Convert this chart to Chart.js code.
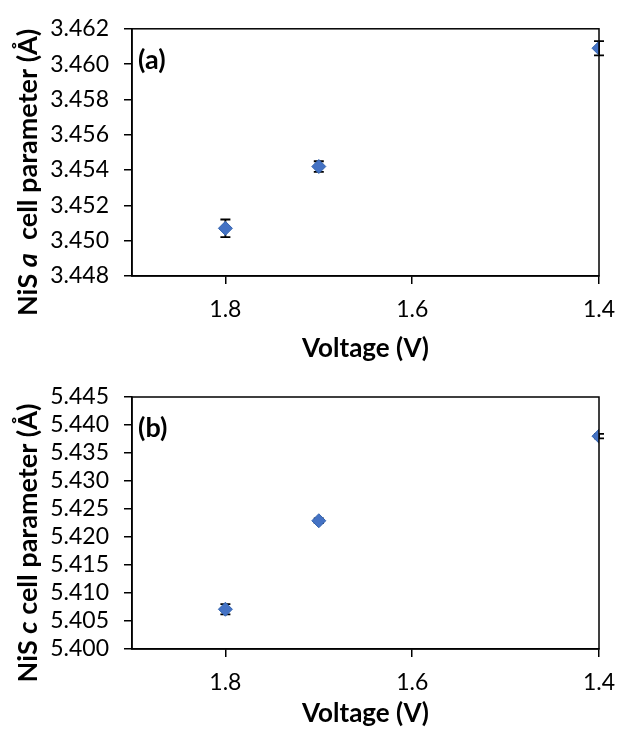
<!DOCTYPE html>
<html>
<head>
<meta charset="utf-8">
<script src="https://cdn.jsdelivr.net/npm/chart.js@4.4.1/dist/chart.umd.min.js"></script>
<style>
    html, body { margin: 0; padding: 0; background: #fff; }
    #wrap { position: relative; width: 617px; height: 733px; }
    canvas { position: absolute; left: 0; }
    #chartA { top: 0; }
    #chartC { top: 366px; }
</style>
</head>
<body>
<div id="wrap">
    <canvas id="chartA" width="617" height="366"></canvas>
    <canvas id="chartC" width="617" height="367"></canvas>
</div>
<script>
// Data
const voltage = [1.8, 1.7, 1.4];
const aParam = [3.4507, 3.4542, 3.4609];
const aErr = [0.0005, 0.0003, 0.0004];
const cParam = [5.4071, 5.4229, 5.4380];
const cErr = [0.0009, 0.0004, 0.0004];

// Tick labels
const xTicks = [1.8, 1.6, 1.4];
const aTicks = [3.448, 3.450, 3.452, 3.454, 3.456, 3.458, 3.460, 3.462];
const cTicks = [5.400, 5.405, 5.410, 5.415, 5.420, 5.425, 5.430, 5.435, 5.440, 5.445];

const FONT = 'Lato, "Open Sans", sans-serif';
const MARKER = '#4472C4';

// Black box round the plot area
const framePlugin = {
    id: 'frame',
    afterDatasetsDraw(chart) {
        const { ctx, chartArea: a } = chart;
        ctx.save();
        ctx.strokeStyle = '#000';
        ctx.lineWidth = 1.5;
        ctx.strokeRect(a.left, a.top, a.right - a.left, a.bottom - a.top);
        ctx.restore();
    }
};

// Vertical error bars with caps
const errorBarPlugin = {
    id: 'errorBars',
    beforeDatasetsDraw(chart) {
        const ctx = chart.ctx;
        const yScale = chart.scales.y;
        chart.data.datasets.forEach((ds, di) => {
            const meta = chart.getDatasetMeta(di);
            if (!ds.errors) return;
            meta.data.forEach((pt, i) => {
                const v = ds.data[i].y;
                const e = ds.errors[i];
                const yTop = yScale.getPixelForValue(v + e);
                const yBot = yScale.getPixelForValue(v - e);
                ctx.save();
                ctx.strokeStyle = '#000';
                ctx.lineWidth = 1.8;
                ctx.beginPath();
                ctx.moveTo(pt.x, yTop);
                ctx.lineTo(pt.x, yBot);
                ctx.moveTo(pt.x - 5, yTop);
                ctx.lineTo(pt.x + 5, yTop);
                ctx.moveTo(pt.x - 5, yBot);
                ctx.lineTo(pt.x + 5, yBot);
                ctx.stroke();
                ctx.restore();
            });
        });
    }
};

// Rotated y title with an italic letter, plus the panel tag
const labelPlugin = {
    id: 'labels',
    afterDraw(chart, args, opts) {
        const { ctx, chartArea: a } = chart;
        ctx.save();
        ctx.fillStyle = '#000';
        ctx.textBaseline = 'middle';
        ctx.textAlign = 'left';

        // panel tag
        ctx.font = 'bold 27px ' + FONT;
        ctx.fillText(opts.tag, a.left + 6, a.top + 31);

        // y title
        ctx.translate(opts.titleX, (a.top + a.bottom) / 2 + opts.titleDy);
        ctx.rotate(-Math.PI / 2);
        const widths = opts.parts.map(p => {
            ctx.font = p.font;
            return ctx.measureText(p.text).width;
        });
        let x = -widths.reduce((s, w) => s + w, 0) / 2;
        opts.parts.forEach((p, i) => {
            ctx.font = p.font;
            ctx.fillText(p.text, x, 0);
            x += widths[i];
        });
        ctx.restore();
    }
};

const makeChart = (canvasId, values, errors, ticks, cfg) => {
    const ctx = document.getElementById(canvasId).getContext('2d');
    return new Chart(ctx, {
        type: 'scatter',
        data: {
            datasets: [{
                data: voltage.map((v, i) => ({ x: v, y: values[i] })),
                errors: errors,
                pointStyle: 'rectRot',
                pointRadius: 7,
                pointHoverRadius: 7,
                backgroundColor: MARKER,
                borderColor: '#3464AE',
                borderWidth: 1
            }]
        },
        options: {
            responsive: false,
            animation: false,
            layout: { padding: { top: cfg.top, right: 18, left: 0, bottom: 0 } },
            plugins: {
                legend: { display: false },
                tooltip: { enabled: false },
                labels: { tag: cfg.tag, parts: cfg.parts, titleX: 28, titleDy: cfg.titleDy }
            },
            scales: {
                x: {
                    type: 'linear',
                    reverse: true,
                    min: 1.4,
                    max: 1.9,
                    afterBuildTicks: (scale) => { scale.ticks = xTicks.map(v => ({ value: v })); },
                    afterFit: (scale) => {
                        scale.height = cfg.xHeight;
                        scale.paddingLeft = 0;
                        scale.paddingRight = 0;
                    },
                    grid: { drawOnChartArea: false, drawTicks: true, tickLength: 8, color: '#000', lineWidth: 1.5 },
                    border: { color: '#000', width: 1.5 },
                    ticks: {
                        color: '#000',
                        autoSkip: false,
                        maxRotation: 0,
                        font: { family: FONT, size: 23 },
                        padding: 12,
                        callback: (v) => v.toFixed(1)
                    },
                    title: {
                        display: true,
                        text: 'Voltage (V)',
                        color: '#000',
                        font: { family: FONT, size: 26, weight: 'bold' },
                        padding: { top: 0, bottom: cfg.xTitlePad }
                    }
                },
                y: {
                    min: ticks[0],
                    max: ticks[ticks.length - 1],
                    afterBuildTicks: (scale) => { scale.ticks = ticks.map(v => ({ value: v })); },
                    afterFit: (scale) => { scale.width = 132; },
                    grid: { drawOnChartArea: false, drawTicks: true, tickLength: 8, color: '#000', lineWidth: 1.5 },
                    border: { color: '#000', width: 1.5 },
                    ticks: {
                        color: '#000',
                        autoSkip: false,
                        font: { family: FONT, size: 23 },
                        padding: 15,
                        callback: (v) => v.toFixed(3)
                    }
                }
            }
        },
        plugins: [errorBarPlugin, framePlugin, labelPlugin]
    });
};

const TITLE_FONT = 'bold 27px ' + FONT;
const TITLE_ITALIC = 'italic bold 27px ' + FONT;

makeChart('chartA', aParam, aErr, aTicks, {
    tag: '(a)',
    top: 23,
    xHeight: 90,
    xTitlePad: 2,
    titleDy: 20,
    parts: [
        { text: 'NiS ', font: TITLE_FONT },
        { text: 'a', font: TITLE_ITALIC },
        { text: '  cell parameter (Å)', font: TITLE_FONT }
    ]
});

makeChart('chartC', cParam, cErr, cTicks, {
    tag: '(b)',
    top: 31,
    xHeight: 84,
    xTitlePad: 4,
    titleDy: 20,
    parts: [
        { text: 'NiS ', font: TITLE_FONT },
        { text: 'c', font: TITLE_ITALIC },
        { text: ' cell parameter (Å)', font: TITLE_FONT }
    ]
});
</script>
</body>
</html>
